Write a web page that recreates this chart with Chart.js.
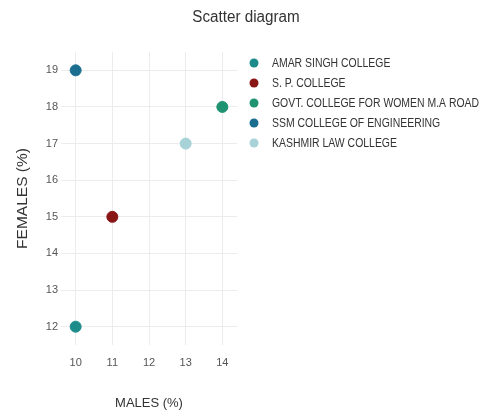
<!DOCTYPE html>
<html>
<head>
<meta charset="utf-8">
<script src="https://cdn.jsdelivr.net/npm/chart.js@4"></script>
<style>
  html, body { margin: 0; padding: 0; background: #fff; }
  #chart { display: block; }
</style>
</head>
<body>
<canvas id="chart" width="491" height="414"></canvas>
<script>
const chartTitle = "Scatter diagram";
const colleges = [
  "AMAR SINGH COLLEGE",
  "S. P. COLLEGE",
  "GOVT. COLLEGE FOR WOMEN M.A ROAD",
  "SSM COLLEGE OF ENGINEERING",
  "KASHMIR LAW COLLEGE"
];
const males = [10, 11, 14, 10, 13];
const females = [12, 15, 18, 19, 17];
const xTicks = [10, 11, 12, 13, 14];
const yTicks = [12, 13, 14, 15, 16, 17, 18, 19];
const colors = ["#1e8b8b", "#8a1515", "#1f9372", "#1b6e8f", "#a6d2d8"];

const font = "'Liberation Sans', Arial, sans-serif";

const datasets = colleges.map((name, i) => ({
  label: name,
  data: [{ x: males[i], y: females[i] }],
  backgroundColor: colors[i],
  borderColor: colors[i],
  pointRadius: 5.5,
  pointHoverRadius: 5.5
}));

// squeezed text, the source picture is a bit narrow
function narrowText(ctx, text, x, y, squeeze) {
  ctx.save();
  ctx.translate(x, y);
  ctx.scale(squeeze, 1);
  ctx.fillText(text, 0, 0);
  ctx.restore();
}

// title + legend drawn by hand so the plot area can sit where it does
const sidePlugin = {
  id: "side",
  afterDraw(chart) {
    const ctx = chart.ctx;
    ctx.save();
    ctx.fillStyle = "#333";
    ctx.font = "16px " + font;
    ctx.textAlign = "center";
    ctx.textBaseline = "middle";
    narrowText(ctx, chartTitle, 246, 18, 0.95);

    ctx.font = "12px " + font;
    ctx.textAlign = "left";
    chart.data.datasets.forEach((ds, i) => {
      const y = 63 + i * 20;
      ctx.beginPath();
      ctx.arc(254, y, 4.5, 0, Math.PI * 2);
      ctx.fillStyle = ds.backgroundColor;
      ctx.fill();
      ctx.fillStyle = "#333";
      narrowText(ctx, ds.label, 272, y + 1, 0.87);
    });
    ctx.restore();
  }
};

new Chart(document.getElementById("chart"), {
  type: "scatter",
  data: { datasets: datasets },
  options: {
    responsive: false,
    animation: false,
    layout: { padding: { left: 0, top: 52, right: 254, bottom: 0 } },
    plugins: {
      legend: { display: false },
      title: { display: false },
      tooltip: { enabled: false }
    },
    scales: {
      x: {
        min: 9.6,
        max: 14.4,
        afterFit: s => { s.height = 69; },
        afterBuildTicks: s => { s.ticks = xTicks.map(v => ({ value: v })); },
        border: { display: false },
        grid: { color: "#ececec", drawTicks: false },
        ticks: {
          padding: 11,
          color: "#555",
          font: { family: font, size: 11 }
        },
        title: {
          display: true,
          text: "MALES (%)",
          color: "#333",
          font: { family: font, size: 13 },
          padding: { top: 0, bottom: 3 }
        }
      },
      y: {
        min: 11.5,
        max: 19.5,
        afterFit: s => { s.width = 61; },
        afterBuildTicks: s => { s.ticks = yTicks.map(v => ({ value: v })); },
        border: { display: false },
        grid: { color: "#ececec", drawTicks: false },
        ticks: {
          padding: 3,
          color: "#555",
          font: { family: font, size: 11 }
        },
        title: {
          display: true,
          text: "FEMALES (%)",
          color: "#333",
          font: { family: font, size: 15.5 },
          padding: { top: 13, bottom: 0 }
        }
      }
    }
  },
  plugins: [sidePlugin]
});
</script>
</body>
</html>
